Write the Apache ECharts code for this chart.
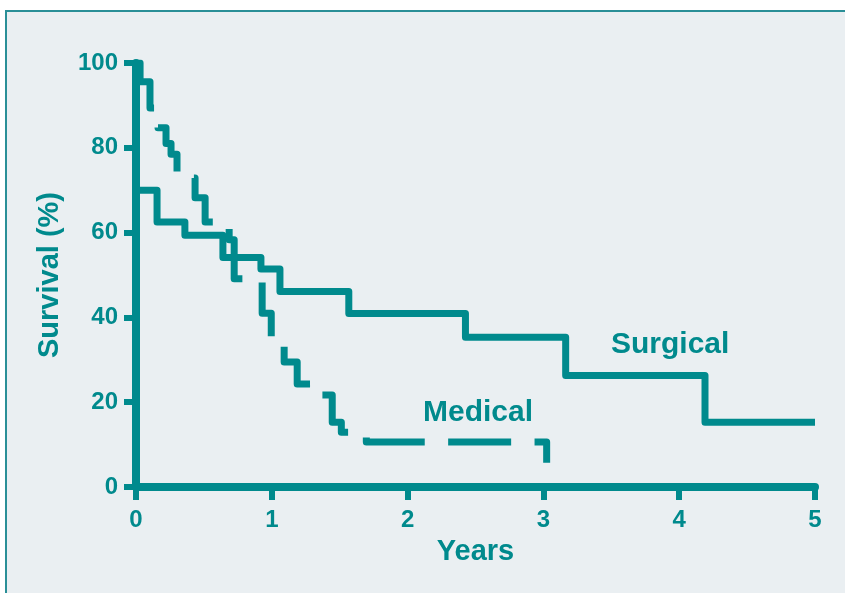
<!DOCTYPE html>
<html>
<head>
<meta charset="utf-8">
<script src="https://cdn.jsdelivr.net/npm/echarts@6/dist/echarts.min.js"></script>
<style>
html,body{margin:0;padding:0;background:#fff;}
#c{width:845px;height:593px;}
</style>
</head>
<body>
<div id="c"></div>
<script>
// Kaplan-Meier style survival data (years, survival %)
var surgicalYears = [0, 0, 0.155, 0.36, 0.64, 0.92, 1.06, 1.567, 2.426, 3.164, 4.19, 5.0];
var surgicalSurvival = [100, 70.0, 62.5, 59.4, 54.1, 51.4, 46.1, 40.9, 35.3, 26.3, 15.3, 15.3];

var medicalYears = [0, 0.03, 0.103, 0.162, 0.221, 0.258, 0.302, 0.435, 0.509, 0.686, 0.723, 0.929, 0.996, 1.091, 1.187, 1.32, 1.445, 1.512, 1.696, 3.024];
var medicalSurvival = [100, 95.6, 89.4, 84.7, 81.0, 78.5, 72.9, 68.2, 62.5, 58.3, 49.1, 41.0, 34.2, 29.5, 24.3, 21.7, 15.3, 12.9, 10.6, 5.7];

var xTicks = [0, 1, 2, 3, 4, 5];
var yTicks = [0, 20, 40, 60, 80, 100];
var seriesNames = ['Surgical', 'Medical'];
var xAxisName = 'Years';
var yAxisName = 'Survival (%)';

function pairs(xs, ys) {
  var out = [];
  for (var i = 0; i < xs.length; i++) out.push([xs[i], ys[i]]);
  return out;
}

var teal = '#008a8d';
var font = '"Liberation Sans", Arial, sans-serif';

var chart = echarts.init(document.getElementById('c'), null, {renderer: 'canvas'});
chart.setOption({
  backgroundColor: '#ffffff',
  animation: false,
  graphic: [
    {
      type: 'rect', z: -10, silent: true,
      shape: {x: 6, y: 11, width: 900, height: 700},
      style: {fill: '#eaeff2', stroke: '#2a8f97', lineWidth: 2}
    },
    {
      type: 'text', z: 10,
      x: 611, y: 345,
      style: {text: seriesNames[0], fill: teal, font: 'bold 30px ' + font,
              align: 'left', verticalAlign: 'middle', textAlign: 'left', textVerticalAlign: 'middle'}
    },
    {
      type: 'text', z: 10,
      x: 423, y: 413,
      style: {text: seriesNames[1], fill: teal, font: 'bold 30px ' + font,
              align: 'left', verticalAlign: 'middle', textAlign: 'left', textVerticalAlign: 'middle'}
    }
  ],
  grid: {left: 136, right: 30, top: 63, bottom: 106, containLabel: false},
  xAxis: {
    type: 'value', min: xTicks[0], max: xTicks[xTicks.length - 1], interval: 1,
    name: xAxisName, nameLocation: 'middle', nameGap: 50,
    nameTextStyle: {color: teal, fontSize: 29, fontWeight: 'bold', fontFamily: font},
    axisLine: {show: true, lineStyle: {color: teal, width: 8}},
    axisTick: {show: true, length: 13, lineStyle: {color: teal, width: 6}},
    axisLabel: {color: teal, fontSize: 24, fontWeight: 'bold', fontFamily: font, margin: 21},
    splitLine: {show: false}
  },
  yAxis: {
    type: 'value', min: yTicks[0], max: yTicks[yTicks.length - 1], interval: 20,
    name: yAxisName, nameLocation: 'middle', nameGap: 72, nameRotate: 90,
    nameTextStyle: {color: teal, fontSize: 29, fontWeight: 'bold', fontFamily: font},
    axisLine: {show: true, lineStyle: {color: teal, width: 8}},
    axisTick: {show: true, length: 12, lineStyle: {color: teal, width: 6}},
    axisLabel: {color: teal, fontSize: 24, fontWeight: 'bold', fontFamily: font, margin: 18},
    splitLine: {show: false}
  },
  series: [
    {
      name: seriesNames[0], type: 'line', step: 'end', showSymbol: false, symbol: 'none',
      data: pairs(surgicalYears, surgicalSurvival),
      lineStyle: {color: teal, width: 7, join: 'round', cap: 'butt'},
      z: 3
    },
    {
      name: seriesNames[1], type: 'line', step: 'end', showSymbol: false, symbol: 'none',
      data: pairs(medicalYears, medicalSurvival),
      lineStyle: {color: teal, width: 7, type: [63, 23.4], dashOffset: 0, join: 'round', cap: 'butt'},
      z: 4
    }
  ]
});
</script>
</body>
</html>
